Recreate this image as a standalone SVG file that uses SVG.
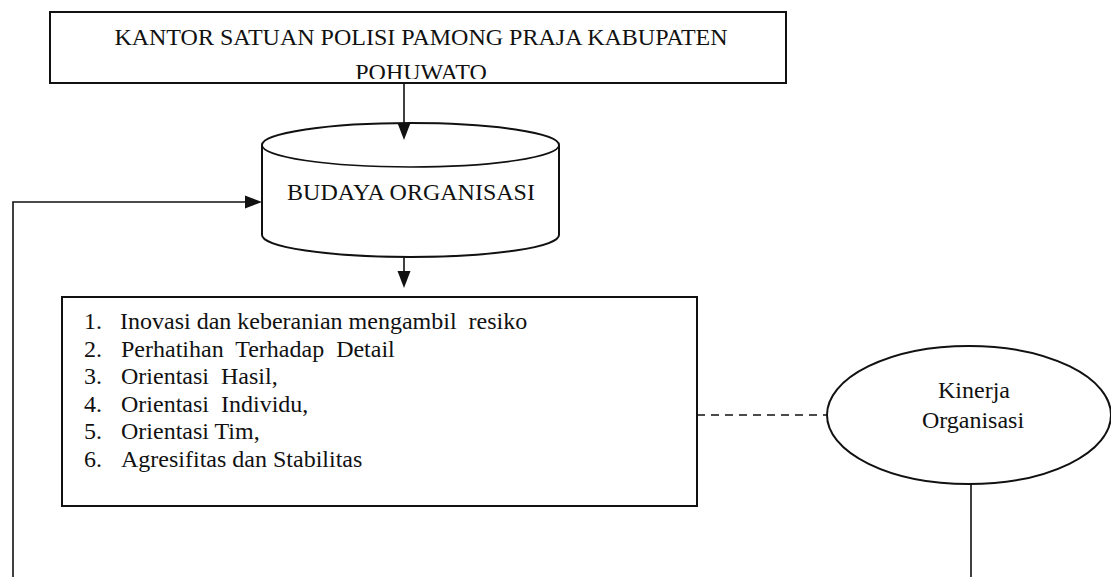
<svg xmlns="http://www.w3.org/2000/svg" width="1111" height="577" viewBox="0 0 1111 577">
<style>
.shape{fill:#fff;stroke:#111;stroke-width:2}
.line{fill:none;stroke:#111;stroke-width:1.6}
.dash{fill:none;stroke:#111;stroke-width:1.6;stroke-dasharray:8 6}
.head{fill:#111}
text{font-family:"Liberation Serif","Times New Roman","DejaVu Serif",serif;font-size:24px;fill:#111;white-space:pre}
.mid{text-anchor:middle}
</style>
<defs>
<clipPath id="topclip"><rect x="51" y="13" width="734" height="66"/></clipPath>
</defs>
<rect width="1111" height="577" fill="#fff"/>
<g id="kantor">
<rect class="shape" x="50" y="12" width="736" height="71" stroke-width="2.5"/>
<g clip-path="url(#topclip)">
<text class="mid" x="421" y="45" font-family="Liberation Serif, serif">KANTOR SATUAN POLISI PAMONG PRAJA KABUPATEN</text>
<text class="mid" x="421" y="80" font-family="Liberation Serif, serif">POHUWATO</text>
</g>
</g>
<g id="budaya">
<path class="shape" d="M262,145 A148.5,22 0 0 1 559,145 V235 A148.5,22 0 0 1 262,235 Z"/>
<path class="line" stroke-width="2" d="M262,145 A148.5,22 0 0 0 559,145"/>
<text class="mid" x="411" y="200" font-family="Liberation Serif, serif">BUDAYA ORGANISASI</text>
</g>
<g id="dimensi" font-family="Liberation Serif, serif">
<rect class="shape" x="62" y="297" width="635" height="209"/>
<text x="84" y="329">1.</text><text x="120" y="329" xml:space="preserve">Inovasi dan keberanian mengambil  resiko</text>
<text x="84" y="356.6">2.</text><text x="121" y="356.6" xml:space="preserve">Perhatihan  Terhadap  Detail</text>
<text x="84" y="384.2">3.</text><text x="121" y="384.2" xml:space="preserve">Orientasi  Hasil,</text>
<text x="84" y="411.8">4.</text><text x="121" y="411.8" xml:space="preserve">Orientasi  Individu,</text>
<text x="84" y="439.4">5.</text><text x="121" y="439.4">Orientasi Tim,</text>
<text x="84" y="467">6.</text><text x="121" y="467">Agresifitas dan Stabilitas</text>
</g>
<g id="kinerja">
<ellipse class="shape" cx="969" cy="415" rx="142" ry="69"/>
<text class="mid" x="974" y="398" font-family="Liberation Serif, serif">Kinerja</text>
<text class="mid" x="973" y="428" font-family="Liberation Serif, serif">Organisasi</text>
</g>
<g id="connectors">
<path class="line" d="M404,83 V126"/>
<path class="head" d="M397.5,123 L410.5,123 L404,140 Z"/>
<path class="line" d="M404,257 V274"/>
<path class="head" d="M397.5,271 L410.5,271 L404,288 Z"/>
<path class="line" d="M13,577 V202 H248"/>
<path class="head" d="M245,195.5 L245,208.5 L262,202 Z"/>
<path class="dash" d="M697,415 H827"/>
<path class="line" d="M971,484 V577"/>
</g>
</svg>
